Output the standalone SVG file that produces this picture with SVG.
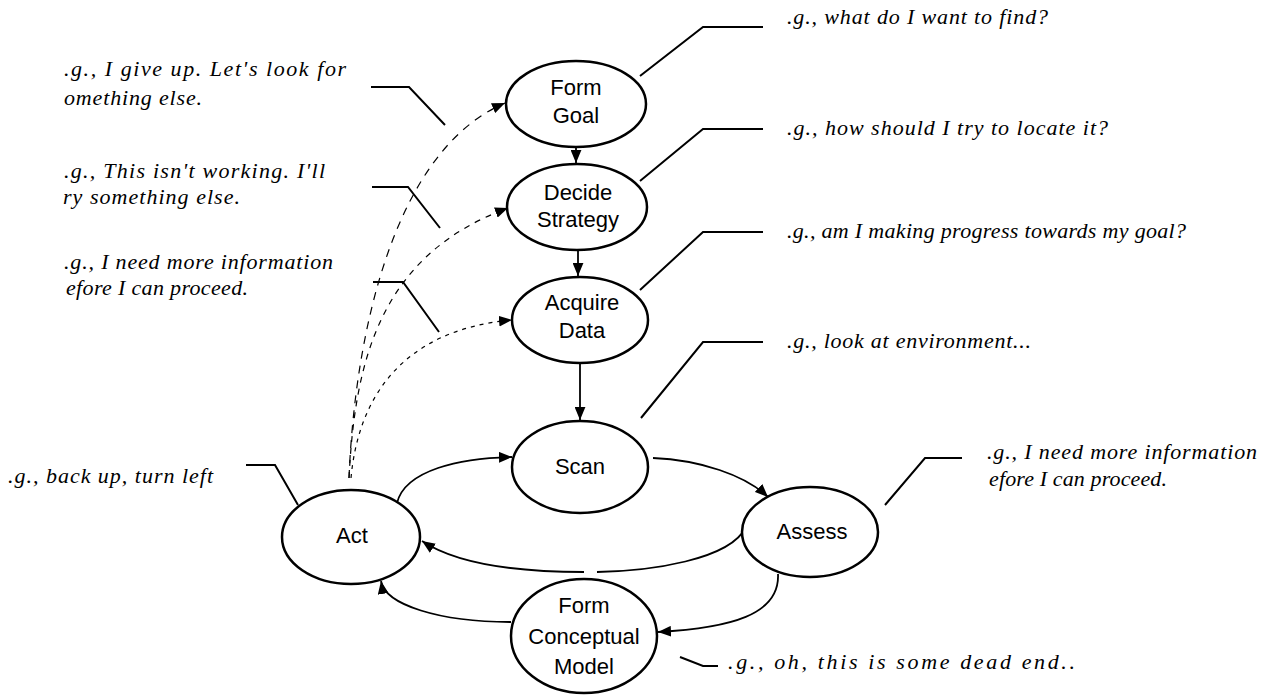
<svg xmlns="http://www.w3.org/2000/svg" width="1264" height="696" viewBox="0 0 1264 696">
<defs>
<marker id="ah" viewBox="0 0 12 10" refX="12" refY="5" markerWidth="13" markerHeight="11" markerUnits="userSpaceOnUse" orient="auto"><path d="M0,0 L12,5 L0,10 z" fill="#000"/></marker>
<style>
.node ellipse{fill:#fff;stroke:#000;stroke-width:2.5}
.node text{font-family:"Liberation Sans",Arial,sans-serif;font-size:22px;fill:#000;text-anchor:middle}
.c{fill:none;stroke:#000;stroke-width:1.8}
.d{fill:none;stroke:#000;stroke-width:1.2}
.co{fill:none;stroke:#000;stroke-width:2}
.n{font-family:"Liberation Serif","Times New Roman",serif;font-style:italic;font-size:22px;fill:#000}
</style>
</defs>
<rect width="1264" height="696" fill="#fff"/>
<g id="connectors">
<path class="c" d="M576,148 L576,163" marker-end="url(#ah)"/>
<path class="c" d="M578,251 L578,276" marker-end="url(#ah)"/>
<path class="c" d="M580,363 L580,420" marker-end="url(#ah)"/>
<path class="c" d="M397,503 C405,470 460,458 512,457" marker-end="url(#ah)"/>
<path class="c" d="M653,458 C700,460 745,475 768,497" marker-end="url(#ah)"/>
<path class="c" d="M746,527 C730,560 650,571 597,572"/>
<path class="c" d="M584,572 C510,572 455,563 422,541" marker-end="url(#ah)"/>
<path class="c" d="M778,574 C780,615 730,628 658,632" marker-end="url(#ah)"/>
<path class="c" d="M511,622 C440,622 385,605 381,581" marker-end="url(#ah)"/>
<path class="d" stroke-dasharray="8 7" d="M349,478 C355,330 395,150 505,103" marker-end="url(#ah)"/>
<path class="d" stroke-dasharray="6 6" d="M349,478 C355,360 380,255 508,208" marker-end="url(#ah)"/>
<path class="d" stroke-dasharray="4 5" d="M351,478 C358,400 400,330 512,320" marker-end="url(#ah)"/>
</g>
<g id="callouts">
<path class="co" d="M640,76 L703,27 L763,27"/>
<path class="co" d="M640,181 L703,129 L763,129"/>
<path class="co" d="M640,290 L703,232 L763,232"/>
<path class="co" d="M641,418 L703,342 L763,342"/>
<path class="co" d="M885,505 L925,458 L962,458"/>
<path class="co" d="M680,657 L703,666 L718,666"/>
<path class="co" d="M246,465 L275,465 L298,505"/>
<path class="co" d="M371,87 L409,87 L445,125"/>
<path class="co" d="M372,187 L408,187 L440,228"/>
<path class="co" d="M373,282 L403,282 L439,332"/>
</g>
<g id="notes">
<text class="n" x="787" y="24" textLength="261" lengthAdjust="spacing">.g., what do I want to find?</text>
<text class="n" x="787" y="135" textLength="321" lengthAdjust="spacing">.g., how should I try to locate it?</text>
<text class="n" x="787" y="238" textLength="399" lengthAdjust="spacing">.g., am I making progress towards my goal?</text>
<text class="n" x="787" y="348" textLength="244" lengthAdjust="spacing">.g., look at environment...</text>
<text class="n" x="987" y="459" textLength="270" lengthAdjust="spacing">.g., I need more information</text>
<text class="n" x="989" y="486" textLength="178" lengthAdjust="spacing">efore I can proceed.</text>
<text class="n" x="728" y="669" textLength="347" lengthAdjust="spacing">.g., oh, this is some dead end..</text>
<text class="n" x="8" y="483" textLength="205" lengthAdjust="spacing">.g., back up, turn left</text>
<text class="n" x="64" y="76" textLength="282" lengthAdjust="spacing">.g., I give up. Let's look for</text>
<text class="n" x="64" y="105" textLength="138" lengthAdjust="spacing">omething else.</text>
<text class="n" x="64" y="178" textLength="261" lengthAdjust="spacing">.g., This isn't working. I'll</text>
<text class="n" x="63" y="204" textLength="177" lengthAdjust="spacing">ry something else.</text>
<text class="n" x="64" y="269" textLength="269" lengthAdjust="spacing">.g., I need more information</text>
<text class="n" x="66" y="295" textLength="182" lengthAdjust="spacing">efore I can proceed.</text>
</g>
<g id="form-goal" class="node"><ellipse cx="576" cy="104" rx="70" ry="43"/><text x="576" y="95">Form</text><text x="576" y="123">Goal</text></g>
<g id="decide-strategy" class="node"><ellipse cx="577" cy="207" rx="70" ry="43"/><text x="578" y="200">Decide</text><text x="578" y="227">Strategy</text></g>
<g id="acquire-data" class="node"><ellipse cx="580" cy="320" rx="68" ry="43"/><text x="582" y="310">Acquire</text><text x="582" y="338">Data</text></g>
<g id="scan" class="node"><ellipse cx="580" cy="467" rx="68" ry="46"/><text x="580" y="474">Scan</text></g>
<g id="act" class="node"><ellipse cx="351" cy="537" rx="69" ry="47"/><text x="352" y="543">Act</text></g>
<g id="assess" class="node"><ellipse cx="810" cy="532" rx="68" ry="45"/><text x="812" y="539">Assess</text></g>
<g id="form-conceptual-model" class="node"><ellipse cx="584" cy="636" rx="73" ry="57"/><text x="584" y="613">Form</text><text x="584" y="644">Conceptual</text><text x="584" y="674">Model</text></g>
</svg>
